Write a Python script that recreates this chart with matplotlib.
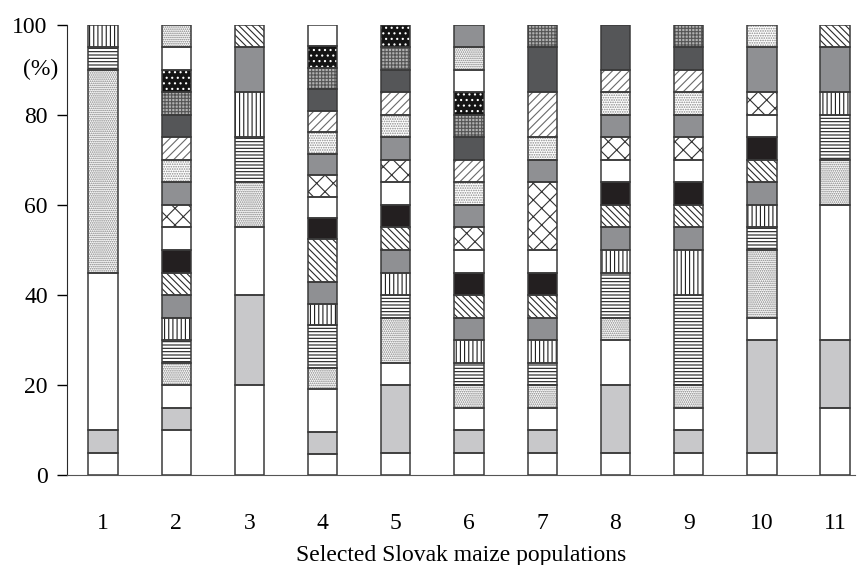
import matplotlib
matplotlib.use('Agg')
import matplotlib.pyplot as plt
import numpy as np

plt.rcParams['font.family'] = ['Liberation Serif', 'DejaVu Serif']
plt.rcParams['hatch.linewidth'] = 0.8

populations = ['1', '2', '3', '4', '5', '6', '7', '8', '9', '10', '11']

# allele frequencies (%) per population, stacked from the bottom
pop1 = [5, 5, 35, 45, 5, 5]
pop2 = [10, 5, 5, 5, 5, 5, 5, 5, 5, 5, 5, 5, 5, 5, 5, 5, 5, 5, 5]
pop3 = [20, 20, 15, 10, 10, 10, 10, 5]
pop4 = [4.76, 4.76, 9.52, 4.76, 9.52, 4.76, 4.76, 9.52, 4.76, 4.76, 4.76,
        4.76, 4.76, 4.76, 4.76, 4.76, 4.76, 4.76]
pop5 = [5, 15, 5, 10, 5, 5, 5, 5, 5, 5, 5, 5, 5, 5, 5, 5, 5]
pop6 = [5, 5, 5, 5, 5, 5, 5, 5, 5, 5, 5, 5, 5, 5, 5, 5, 5, 5, 5, 5]
pop7 = [5, 5, 5, 5, 5, 5, 5, 5, 5, 5, 15, 5, 5, 10, 10, 5]
pop8 = [5, 15, 10, 5, 10, 5, 5, 5, 5, 5, 5, 5, 5, 5, 10]
pop9 = [5, 5, 5, 5, 20, 10, 5, 5, 5, 5, 5, 5, 5, 5, 5, 5]
pop10 = [5, 25, 5, 15, 5, 5, 5, 5, 5, 5, 5, 10, 5]
pop11 = [15, 15, 30, 10, 10, 5, 10, 5]

freqs = [pop1, pop2, pop3, pop4, pop5, pop6, pop7, pop8, pop9, pop10, pop11]

# (face colour, hatch, hatch colour) for each stacked segment position
styles = [
    ('white', '', 'none'),
    ('#c8c8ca', '', 'none'),
    ('white', '', 'none'),
    ('white', '........', '#7a7a7a'),
    ('white', '-----', '#1e1e1e'),
    ('white', '||||', '#1e1e1e'),
    ('#8f9093', '', 'none'),
    ('white', '\\\\\\\\\\', '#2a2a2a'),
    ('#231f20', '', 'none'),
    ('white', '', 'none'),
    ('white', 'xx', '#333333'),
    ('#8f9093', '', 'none'),
    ('white', '.......', '#8a8a8a'),
    ('white', '////', '#6a6a6a'),
    ('#555658', '', 'none'),
    ('#b0b0b0', '+++++', '#555555'),
    ('#141414', '...', 'white'),
    ('white', '', 'none'),
    ('white', '........', '#7a7a7a'),
    ('#8f9093', '', 'none'),
]

fig = plt.figure(figsize=(8.6, 5.65), dpi=100)
ax = fig.add_axes([0.078, 0.159, 0.916, 0.797])

x = np.arange(1, len(populations) + 1)
width = 0.4

for i, seg in enumerate(freqs):
    bottom = 0
    for j, h in enumerate(seg):
        face, hatch, hcol = styles[j]
        ax.bar(x[i], h, width, bottom=bottom, color=face, edgecolor=hcol,
               hatch=hatch, linewidth=0, zorder=2)
        ax.bar(x[i], h, width, bottom=bottom, fill=False, edgecolor='#3a3a3a',
               linewidth=1.1, zorder=3)
        bottom += h

ax.set_xlim(0.51, 11.27)
ax.set_ylim(0, 100)
ax.set_yticks([0, 20, 40, 60, 80, 100])
ax.set_xticks(x)
ax.set_xticklabels(populations)

for s in ['top', 'right']:
    ax.spines[s].set_visible(False)
ax.spines['left'].set_color('#2a2a2a')
ax.spines['bottom'].set_color('#555555')
ax.tick_params(axis='y', direction='out', length=7, width=1, pad=7, labelsize=17)
ax.tick_params(axis='x', length=0, pad=27, labelsize=17)

ax.text(-0.034, 0.9, '(%)', transform=ax.transAxes, fontsize=17, ha='center', va='center')
ax.set_xlabel('Selected Slovak maize populations', fontsize=17, labelpad=8)

fig.savefig('out.png', dpi=100)
